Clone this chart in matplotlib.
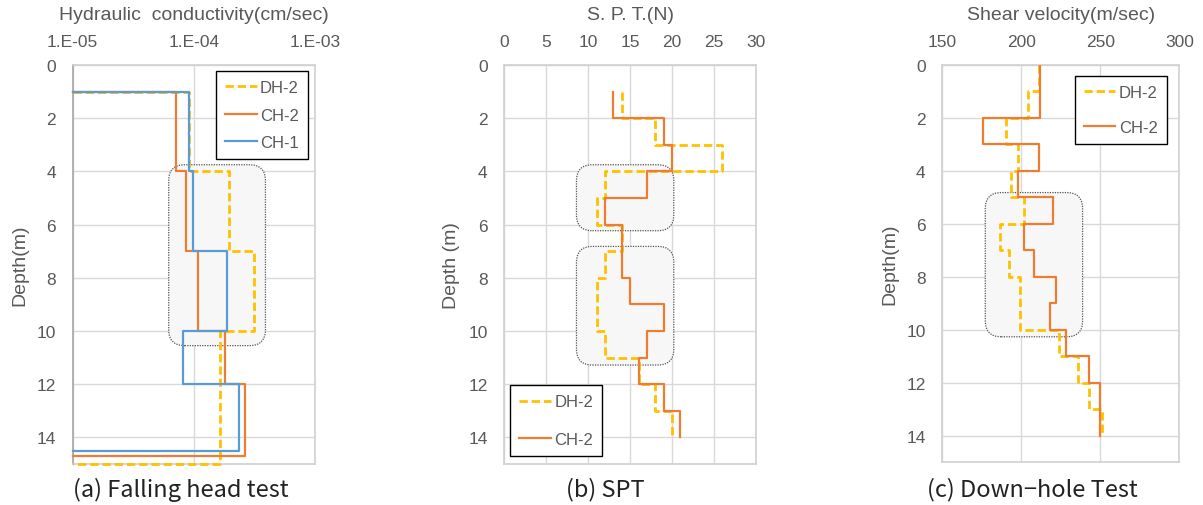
import numpy as np
import matplotlib
matplotlib.use('Agg')
import matplotlib.pyplot as plt
from matplotlib.patches import FancyBboxPatch
from matplotlib.transforms import IdentityTransform

# --- Data (depth boundaries in m, values per layer) ---
# (a) Falling head test - hydraulic conductivity (cm/sec)
K_BASE = 1e-5
CH1_DEPTH = [1, 4, 7, 10, 12, 14.5]
CH1_K = [9.1e-5, 9.8e-5, 1.88e-4, 8.2e-5, 2.34e-4]
CH2_DEPTH_K = [1, 4, 7, 10, 12, 14.7]
CH2_K = [7.1e-5, 8.6e-5, 1.09e-4, 1.81e-4, 2.63e-4]
DH2_DEPTH_K = [1, 4, 7, 10, 15]
DH2_K = [9.1e-5, 1.96e-4, 3.16e-4, 1.64e-4]

# (b) SPT N values, 1 m layers from 1 m to 14 m
SPT_DEPTH = list(range(1, 15))
SPT_CH2 = [13, 19, 20, 17, 12, 14, 14, 15, 19, 17, 16, 19, 21]
SPT_DH2 = [14, 18, 26, 12, 11, 14, 12, 11, 11, 12, 16, 18, 20]

# (c) Down-hole test - shear velocity (m/sec), 1 m layers from 0 to 14 m
VS_DEPTH = list(range(0, 15))
VS_CH2 = [212, 212, 175.5, 211, 198, 220, 202, 208, 222, 218, 228, 243, 250, 250]
VS_DH2 = [211, 204, 190, 198, 193.5, 202, 186.5, 192, 199, 199, 224, 236, 243, 251]

# highlighted zones: (x0, x1, depth0, depth1)
ZONES_A = [(6.2e-5, 3.9e-4, 3.75, 10.55)]
ZONES_B = [(8.6, 20.2, 3.75, 6.23), (8.6, 20.2, 6.82, 11.28)]
ZONES_C = [(177.2, 238.8, 4.82, 10.27)]

# --- Style ---
ORANGE = '#ED7D31'
BLUE = '#5B9BD5'
YELLOW = '#FFC000'
TXT = '#595959'
GRID = '#D9D9D9'
FONT = ['Liberation Sans', 'DejaVu Sans']
CAP_FONT = ['Noto Sans CJK KR', 'DejaVu Sans']

plt.rcParams.update({
    'font.family': FONT,
    'font.size': 12.5,
    'text.color': TXT,
    'axes.labelcolor': TXT,
    'xtick.color': TXT,
    'ytick.color': TXT,
})

W, H = 1203, 506
fig = plt.figure(figsize=(W / 100, H / 100), dpi=100)


def step_profile(depths, values, base=None):
    xs, ys = [], []
    if base is not None:
        xs.append(base); ys.append(depths[0])
    for i, v in enumerate(values):
        xs += [v, v]
        ys += [depths[i], depths[i + 1]]
    if base is not None:
        xs.append(base); ys.append(depths[-1])
    return xs, ys


def make_axes(left, right, top, bottom):
    ax = fig.add_axes([left / W, 1 - bottom / H, (right - left) / W, (bottom - top) / H])
    ax.set_ylim(15, 0)
    ax.set_yticks(range(0, 15, 2))
    ax.xaxis.tick_top()
    ax.xaxis.set_label_position('top')
    ax.tick_params(length=0, labelsize=12.5, colors=TXT)
    ax.tick_params(axis='x', pad=11.5)
    ax.tick_params(axis='y', pad=12)
    ax.grid(True, color=GRID, linewidth=1.0, zorder=0)
    ax.set_axisbelow(True)
    for s in ax.spines.values():
        s.set_color('#D0D0D0')
        s.set_linewidth(1.2)
    return ax


def add_zones(ax, zones):
    fig.canvas.draw()
    for x0, x1, d0, d1 in zones:
        (px0, py0), (px1, py1) = ax.transData.transform([(x0, d1), (x1, d0)])
        box = FancyBboxPatch((px0 + 12, py0 + 12), px1 - px0 - 24, py1 - py0 - 24,
                             boxstyle='round,pad=12,rounding_size=16',
                             transform=IdentityTransform(), facecolor='#F7F7F7',
                             edgecolor='#555555', linestyle=(0, (1, 1)), linewidth=0.9,
                             zorder=1)
        ax.add_patch(box)
        box.set_clip_on(False)


def legend(ax, loc, anchor, spacing):
    lg = ax.legend(loc=loc, bbox_to_anchor=anchor, fancybox=False, edgecolor='black',
                   framealpha=1, fontsize=12, handlelength=1.9, labelspacing=spacing,
                   borderpad=0.55, handletextpad=0.2, borderaxespad=0, labelcolor=TXT)
    lg.get_frame().set_linewidth(1.0)
    lg.set_zorder(10)


DASH = dict(color=YELLOW, linewidth=2.0, linestyle=(0, (3, 1.4)), zorder=3)

# --- (a) Falling head test ---
ax = make_axes(72.7, 315, 66, 465)
ax.set_xscale('log')
ax.set_xlim(1e-5, 1e-3)
ax.set_xticks([1e-5, 1e-4, 1e-3])
ax.set_xticklabels(['1.E-05', '1.E-04', '1.E-03'])
ax.xaxis.set_minor_locator(matplotlib.ticker.NullLocator())
x, y = step_profile(DH2_DEPTH_K, DH2_K, K_BASE)
ax.plot(x, y, label='DH-2', clip_on=False, **DASH)
x, y = step_profile(CH2_DEPTH_K, CH2_K, K_BASE)
ax.plot(x, y, color=ORANGE, lw=1.6, label='CH-2', zorder=4, clip_on=False)
x, y = step_profile(CH1_DEPTH, CH1_K, K_BASE)
ax.plot(x, y, color=BLUE, lw=1.6, label='CH-1', zorder=5, clip_on=False)
ax.spines['left'].set_color('#A6A6A6')
ax.set_xlabel('Hydraulic  conductivity(cm/sec)', fontsize=14, labelpad=11)
ax.set_ylabel('Depth(m)', fontsize=14, labelpad=6)
legend(ax, 'upper right', (0.971, 0.985), 0.75)
fig.text(72.7 / W, 1 - 490 / H, '(a) Falling head test', family=CAP_FONT, fontsize=17,
         color='#222222', ha='left', va='center')

axes_list = [(ax, ZONES_A)]

# --- (b) SPT ---
ax = make_axes(504.3, 756, 66, 465)
ax.set_xlim(0, 30)
ax.set_xticks(range(0, 31, 5))
x, y = step_profile(SPT_DEPTH, SPT_DH2)
ax.plot(x, y, label='DH-2', **DASH)
x, y = step_profile(SPT_DEPTH, SPT_CH2)
ax.plot(x, y, color=ORANGE, lw=1.6, label='CH-2', zorder=4)
ax.set_xlabel('S. P. T.(N)', fontsize=14, labelpad=11)
ax.set_ylabel('Depth (m)', fontsize=14, labelpad=6)
legend(ax, 'lower left', (0.023, 0.02), 1.35)
fig.text(605 / W, 1 - 490 / H, '(b) SPT', family=CAP_FONT, fontsize=17,
         color='#222222', ha='center', va='center')
axes_list.append((ax, ZONES_B))

# --- (c) Down-hole test ---
ax = make_axes(942.3, 1179.3, 66, 463)
ax.set_xlim(150, 300)
ax.set_xticks(range(150, 301, 50))
x, y = step_profile(VS_DEPTH, VS_DH2)
ax.plot(x, y, label='DH-2', **DASH)
x, y = step_profile(VS_DEPTH, VS_CH2)
ax.plot(x, y, color=ORANGE, lw=1.6, label='CH-2', zorder=4)
ax.set_xlabel('Shear velocity(m/sec)', fontsize=14, labelpad=11)
ax.set_ylabel('Depth(m)', fontsize=14, labelpad=6)
legend(ax, 'upper right', (0.947, 0.972), 1.2)
fig.text(1032 / W, 1 - 490 / H, '(c) Down\u2212hole Test', family=CAP_FONT, fontsize=17,
         color='#222222', ha='center', va='center')
axes_list.append((ax, ZONES_C))

for a, zones in axes_list:
    add_zones(a, zones)

fig.savefig('out.png', dpi=100)
